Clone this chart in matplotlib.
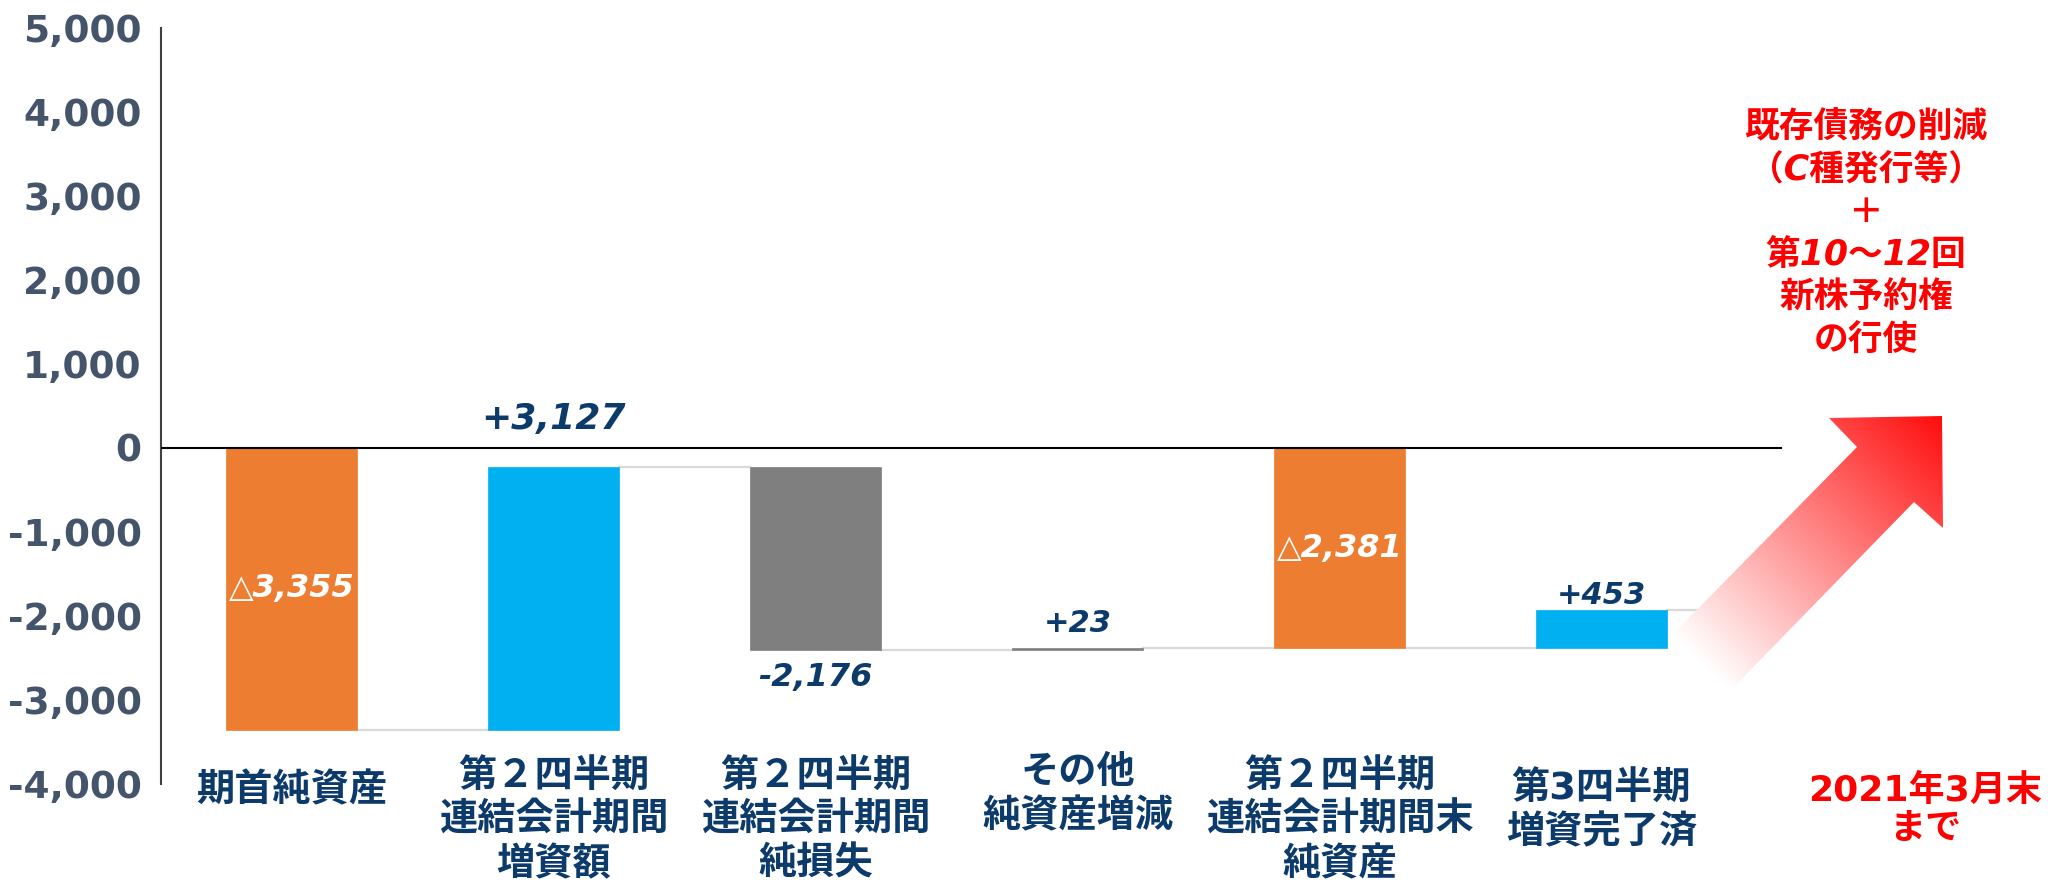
import matplotlib
matplotlib.use("Agg")
import matplotlib.pyplot as plt
import numpy as np
from matplotlib.patches import Polygon
from matplotlib.transforms import blended_transform_factory

plt.rcParams['font.family'] = ['DejaVu Sans', 'Noto Sans CJK JP']

# data
categories = ["期首純資産",
              "第２四半期\n連結会計期間\n増資額",
              "第２四半期\n連結会計期間\n純損失",
              "その他\n純資産増減",
              "第２四半期\n連結会計期間末\n純資産",
              "第3四半期\n増資完了済"]
amounts = [-3355, 3127, -2176, 23, -2381, 453]
is_total = [True, False, False, False, True, False]
value_labels = ["△3,355", "+3,127", "-2,176", "+23", "△2,381", "+453"]
bar_colors = ["#ED7D31", "#00B0F0", "#7F7F7F", "#7F7F7F", "#ED7D31", "#00B0F0"]
y_ticks = [-4000, -3000, -2000, -1000, 0, 1000, 2000, 3000, 4000, 5000]
note_text = "既存債務の削減\n（C種発行等）\n＋\n第10～12回\n新株予約権\nの行使"
note_date = "2021年3月末\nまで"

# layout (pixels in the 2048x882 picture)
W, H = 2048, 882
label_center_px = [791, 821, 821, 795, 821, 811]
value_offset_px = [0, 48, -28, 25, 0, 14]
value_sizes = [23, 26, 23, 22, 23, 22]
navy = "#0B3A6B"

fig = plt.figure(figsize=(W / 100, H / 100), dpi=100)
ax = fig.add_axes([161 / W, 1 - 784 / H, (1782 - 161) / W, (784 - 28) / H])

x = np.arange(len(amounts))
bottoms, heights, levels = [], [], []
running = 0
for amt, tot in zip(amounts, is_total):
    if tot:
        bottoms.append(0)
        running = amt
    else:
        bottoms.append(running)
        running += amt
    heights.append(amt)
    levels.append(running)

ax.bar(x, heights, bottom=bottoms, width=0.5, color=bar_colors,
       edgecolor=bar_colors, linewidth=0.5, zorder=3)

# connectors
for i, lv in enumerate(levels):
    x_end = i + 0.75 if i < len(levels) - 1 else 5.69
    ax.plot([i + 0.25, x_end], [lv, lv], color="#D9D9D9", lw=1.6, zorder=2)

ax.axhline(0, color="black", lw=1.5, zorder=4)

# value labels
for i, lab in enumerate(value_labels):
    b, h = bottoms[i], heights[i]
    if is_total[i]:
        y = b + h / 2
        col = "white"
    else:
        y = b + h
        col = navy
    ax.annotate(lab, (x[i], y), xytext=(0, value_offset_px[i]),
                textcoords="offset pixels", ha="center", va="center",
                fontsize=value_sizes[i], fontweight="bold", style="italic",
                color=col, zorder=5)

ax.set_xlim(-0.5, 5.69)
ax.set_ylim(-4000, 5000)
ax.set_yticks(y_ticks)
ax.set_yticklabels([f"{v:,}" for v in y_ticks], fontsize=27,
                   fontweight="bold", color="#44546A")
ax.tick_params(axis="y", length=0, pad=14)
ax.set_xticks([])
for s in ["top", "right", "bottom"]:
    ax.spines[s].set_visible(False)
ax.spines["left"].set_color("#404040")
ax.spines["left"].set_linewidth(1.5)

# category labels
trans = blended_transform_factory(ax.transData, fig.transFigure)
for i, cat in enumerate(categories):
    ax.text(x[i], 1 - label_center_px[i] / H, cat, transform=trans,
            ha="center", va="center", fontsize=27.5, fontweight="bold",
            color=navy, linespacing=1.28)

# red notes
fig.text(1866 / W, 1 - 234 / H, note_text, ha="center", va="center",
         fontsize=25, fontweight="bold", style="italic", color="#FF0000",
         linespacing=1.32)
fig.text(1925 / W, 1 - 810 / H, note_date, ha="center", va="center",
         fontsize=26, fontweight="bold", color="#FF0000", linespacing=1.2)

# gradient arrow
ov = fig.add_axes([0, 0, 1, 1])
ov.set_xlim(0, W)
ov.set_ylim(H, 0)
ov.set_axis_off()
arrow_pts = [(1673, 634), (1857, 447), (1829, 418), (1942, 416),
             (1943, 528), (1914, 502), (1730, 691)]
poly = Polygon(arrow_pts, closed=True, facecolor="none", edgecolor="none",
               transform=ov.transData)
ov.add_patch(poly)
x0, x1, y0, y1 = 1660, 1950, 405, 700
gx, gy = np.meshgrid(np.linspace(x0, x1, 300), np.linspace(y0, y1, 300))
tail = np.array([1701.0, 662.0])
tip = np.array([1942.0, 416.0])
d = tip - tail
t = ((gx - tail[0]) * d[0] + (gy - tail[1]) * d[1]) / (d @ d)
t = np.clip(t, 0, 1)
img = np.ones(gx.shape + (3,))
img[..., 1] = 1 - 0.95 * t
img[..., 2] = 1 - 0.95 * t
im = ov.imshow(img, extent=(x0, x1, y1, y0), origin="upper",
               interpolation="bilinear", zorder=10)
im.set_clip_path(poly)
ov.set_xlim(0, W)
ov.set_ylim(H, 0)

fig.savefig("out.png", dpi=100)
